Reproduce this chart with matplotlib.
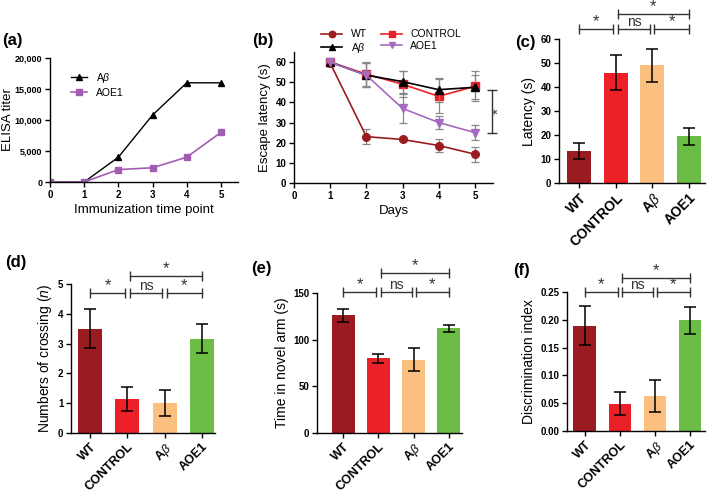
import numpy as np
import matplotlib
matplotlib.use('Agg')
import matplotlib.pyplot as plt
from matplotlib.ticker import FuncFormatter

plt.rcParams['font.family'] = ['Liberation Sans', 'DejaVu Sans']
plt.rcParams['mathtext.fontset'] = 'custom'
plt.rcParams['mathtext.rm'] = 'Liberation Sans'
plt.rcParams['mathtext.it'] = 'Liberation Sans:italic'
plt.rcParams['mathtext.bf'] = 'Liberation Sans:bold'

# (a) ELISA titer
time_points = [0, 1, 2, 3, 4, 5]
titer_abeta = [0, 0, 4000, 10800, 16000, 16000]
titer_aoe1 = [0, 0, 2000, 2300, 4000, 8000]

# (b) escape latency over days
days = [1, 2, 3, 4, 5]
lat_wt = [59.5, 23.0, 21.6, 18.6, 14.3]
lat_wt_err = [0, 3.7, 1.0, 3.2, 3.7]
lat_ctrl = [60.0, 54.0, 49.0, 43.0, 48.0]
lat_ctrl_err = [0, 6.0, 6.5, 8.5, 7.5]
lat_abeta = [60.0, 53.5, 50.3, 46.3, 47.5]
lat_abeta_err = [0, 6.0, 5.5, 6.0, 6.0]
lat_aoe1 = [60.0, 53.5, 37.0, 30.0, 25.0]
lat_aoe1_err = [0, 6.0, 7.0, 3.0, 3.7]

# bar panels
groups = ['WT', 'CONTROL', r'A$\beta$', 'AOE1']
bar_colors = ['#9b1c20', '#ec2027', '#fbbf80', '#6cbd45']

latency = [13.3, 46.0, 49.0, 19.5]
latency_err = [3.2, 7.2, 7.0, 3.5]
crossing = [3.5, 1.15, 1.0, 3.17]
crossing_err = [0.65, 0.4, 0.43, 0.48]
novel_time = [126, 80, 78.5, 112]
novel_time_err = [7, 5, 12.5, 4]
disc_index = [0.189, 0.049, 0.063, 0.199]
disc_index_err = [0.035, 0.021, 0.028, 0.024]

W, H = 709, 492
fig = plt.figure(figsize=(W / 100, H / 100), dpi=100)


def box(l, r, t, b):
    return [l / W, (H - b) / H, (r - l) / W, (b - t) / H]


def style(ax, xsize=7, ysize=7):
    for s in ['top', 'right']:
        ax.spines[s].set_visible(False)
    for s in ['left', 'bottom']:
        ax.spines[s].set_linewidth(1.0)
    ax.tick_params(direction='out', length=3.5, width=1.0, pad=2)
    ax.tick_params(axis='x', labelsize=xsize)
    ax.tick_params(axis='y', labelsize=ysize)
    for lab in ax.get_xticklabels() + ax.get_yticklabels():
        lab.set_fontweight('bold')


def bracket(ax, x1, x2, y, text, fs):
    ax.plot([x1, x2], [y, y], color='#333333', lw=1.0, marker='|', ms=7, mew=1.0, clip_on=False)
    ax.text((x1 + x2) / 2, y, text, ha='center', va='bottom', fontsize=fs, color='#333333')


def bar_panel(rect, vals, errs, ylim, yticks, ylabel, xlim, low, top, xsize=9, fmt=None):
    ax = fig.add_axes(rect)
    x = np.arange(len(groups))
    ax.bar(x, vals, width=0.65, color=bar_colors)
    ax.errorbar(x, vals, yerr=errs, fmt='none', ecolor='black', elinewidth=1.1, capsize=4.5, capthick=1.1)
    ax.set_xlim(*xlim)
    ax.set_ylim(*ylim)
    ax.set_yticks(yticks)
    if fmt:
        ax.yaxis.set_major_formatter(FuncFormatter(fmt))
    ax.set_xticks(x)
    ax.set_xticklabels(groups, rotation=45, ha='right', rotation_mode='anchor')
    ax.set_ylabel(ylabel, fontsize=10, labelpad=3)
    style(ax, xsize)
    g = 0.06
    bracket(ax, 0, 1 - g, low, '*', 12)
    bracket(ax, 1 + g, 2 - g, low, 'ns', 10)
    bracket(ax, 2 + g, 3, low, '*', 12)
    bracket(ax, 1 + g, 3, top, '*', 12)
    return ax


# (a)
ax = fig.add_axes(box(50, 238, 58, 182))
ax.plot(time_points, titer_abeta, color='black', lw=1.0, marker='^', ms=4, label=r'A$\beta$')
ax.plot(time_points, titer_aoe1, color='#a25db2', lw=1.2, marker='s', ms=4.5, label='AOE1')
ax.set_xlim(0, 5.5)
ax.set_ylim(0, 20000)
ax.set_xticks(range(6))
ax.set_yticks(range(0, 20001, 5000))
ax.yaxis.set_major_formatter(FuncFormatter(lambda v, p: f'{int(v):,}'))
ax.set_xlabel('Immunization time point', fontsize=9.5, labelpad=3)
ax.set_ylabel('ELISA titer', fontsize=9.5, va='center')
ax.yaxis.set_label_coords(-0.225, 0.5)
style(ax, ysize=6.5)
ax.legend(loc='upper left', bbox_to_anchor=(0.06, 0.97), frameon=False, fontsize=7.5,
          handlelength=1.6, labelspacing=0.25)

# (b)
ax = fig.add_axes(box(294, 493, 52, 183))
series = [('WT', lat_wt, lat_wt_err, '#9b1c20', 'o'),
          ('CONTROL', lat_ctrl, lat_ctrl_err, '#ec2027', 's'),
          (r'A$\beta$', lat_abeta, lat_abeta_err, 'black', '^'),
          ('AOE1', lat_aoe1, lat_aoe1_err, '#a66bbf', 'v')]
handles = {}
for name, y, e, c, m in series:
    ax.errorbar(days, y, yerr=e, fmt='none', ecolor='#888888', elinewidth=0.9, capsize=3, capthick=0.9)
    h, = ax.plot(days, y, color=c, marker=m, ms=5.5, lw=1.2, label=name)
    handles[name] = h
ax.set_xlim(0, 5.5)
ax.set_ylim(0, 65)
ax.set_xticks(range(6))
ax.set_yticks(range(0, 61, 10))
ax.set_xlabel('Days', fontsize=9.5, labelpad=3)
ax.set_ylabel('Escape latency (s)', fontsize=9.5, labelpad=3)
style(ax)
order = ['WT', r'A$\beta$', 'CONTROL', 'AOE1']
fig.legend([handles[k] for k in order], order, ncol=2, frameon=False, fontsize=7.5,
           loc='center left', bbox_to_anchor=(312 / W, 1 - 42 / H), handlelength=2.0,
           labelspacing=0.15, columnspacing=1.4, markerscale=0.85)
ax.plot([5.48, 5.48], [25, 46], color='#333333', lw=1.0, marker='_', ms=7, mew=1.0, clip_on=False)
ax.text(5.64, 35.5, '*', rotation=90, ha='center', va='center', fontsize=11, color='#333333')

# (c) - (f)
bar_panel(box(559, 705, 39, 183), latency, latency_err, (0, 60), range(0, 61, 10),
          'Latency (s)', (-0.545, 3.44), 64.2, 70.4, xsize=10)
bar_panel(box(71, 215, 284, 433), crossing, crossing_err, (0, 5), range(0, 6),
          r'Numbers of crossing ($\it{n}$)', (-0.51, 3.35), 4.7, 5.27)
bar_panel(box(317, 462, 293, 433), novel_time, novel_time_err, (0, 150), [0, 50, 100, 150],
          'Time in novel arm (s)', (-0.74, 3.37), 151, 171)
bar_panel(box(567, 705, 292, 431), disc_index, disc_index_err, (0, 0.25), np.arange(0, 0.26, 0.05),
          'Discrimination index', (-0.51, 3.43), 0.25, 0.275, fmt=lambda v, p: f'{v:.2f}')

# panel labels
for lab, x, y in [('(a)', 2, 41), ('(b)', 252, 41), ('(c)', 515, 43),
                  ('(d)', 5, 262), ('(e)', 251, 268), ('(f)', 513, 270)]:
    fig.text(x / W, 1 - y / H, lab, fontsize=12, fontweight='bold', ha='left', va='center')

plt.savefig('out.png', dpi=100)
